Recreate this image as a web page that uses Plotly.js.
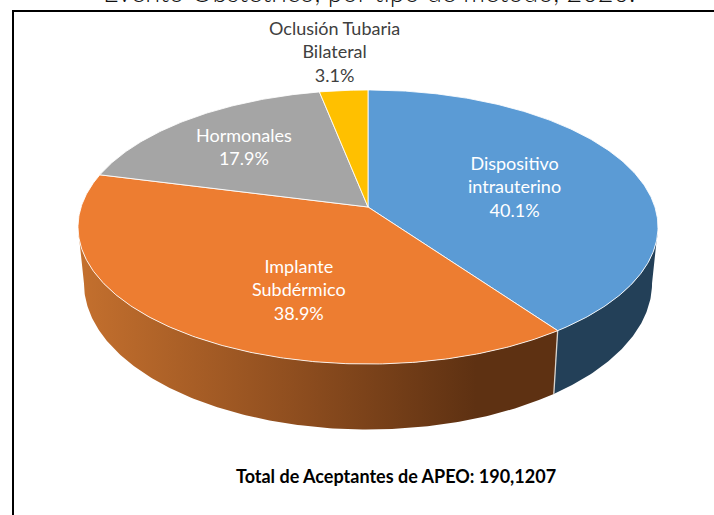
<!DOCTYPE html>
<html><head><meta charset="utf-8">
<script src="https://cdn.plot.ly/plotly-3.0.0.min.js"></script>
<style>html,body{margin:0;padding:0;background:#fff}#c{width:714px;height:515px}</style></head>
<body><div id="c"></div>
<script>
const categories = ['Dispositivo<br>intrauterino','Implante<br>Subdérmico','Hormonales','Oclusión Tubaria<br>Bilateral'];
const percentages = [40.1,38.9,17.9,3.1];
const colors = ['#5B9BD5','#ED7D31','#A5A5A5','#FFC000'];
const labelX = [514,299,244,334];
const labelY = [186,289,146,51];
const labelColors = ['#ffffff','#ffffff','#ffffff','#404040'];
const titleText = 'Evento Obstétrico, por tipo de método, 2020.';
const totalText = 'Total de Aceptantes de APEO: 190,1207';

// perspective model of the tilted disc
const CX=368, K=0.146, TOP={a:207,b:103.9,A:286.9}, BOT={a:262,b:104.8,A:281};
function pt(th,d){const u=Math.sin(th),v=-Math.cos(th),w=1-K*v;return [CX+d.A*u/w,(d.a+d.b*v)/w];}
function arc(t0,t1,d){const n=Math.max(2,Math.ceil(Math.abs(t1-t0)/0.01));const r=[];for(let i=0;i<=n;i++)r.push(pt(t0+(t1-t0)*i/n,d));return r;}
const total=percentages.reduce((a,b)=>a+b,0);
const angles=[0];percentages.forEach(p=>angles.push(angles[angles.length-1]+p/total*2*Math.PI));

function poly(pts,color,extra){return Object.assign({type:'scatter',mode:'lines',x:pts.map(p=>p[0]),y:pts.map(p=>p[1]),fill:'toself',fillcolor:color,line:{color:color,width:0},hoverinfo:'skip',showlegend:false},extra||{});}
const traces=[];
// sides: only the front-facing part, between the two silhouette tangents
const tangent=Math.acos(-K);
const side0=[tangent,angles[1]],side1=[angles[1],2*Math.PI-tangent];
traces.push(poly(arc(side0[0],side0[1],TOP).concat(arc(side0[1],side0[0],BOT)),'#234058'));
traces.push(poly(arc(side1[0],side1[1],TOP).concat(arc(side1[1],side1[0],BOT)),'#ED7D31',{fillgradient:{type:'horizontal',colorscale:[[0,'#C4702E'],[0.45,'#8F4E1F'],[0.83,'#5E3112'],[1,'#5E3112']]}}));
// seam on the side
const s0=pt(angles[1],TOP),s1=pt(angles[1],BOT);
traces.push({type:'scatter',mode:'lines',x:[s0[0],s1[0]],y:[s0[1],s1[1]],line:{color:'#D9D4CE',width:1.3},hoverinfo:'skip',showlegend:false});
// top slices
percentages.forEach((p,i)=>{
  const c0=[CX,TOP.a];
  const pts=[c0].concat(arc(angles[i],angles[i+1],TOP)).concat([c0]);
  traces.push(poly(pts,colors[i],{line:{color:'rgba(255,255,255,0.85)',width:1}}));
});
const ann=categories.map((c,i)=>({x:labelX[i],y:labelY[i],xref:'x',yref:'y',text:c+'<br>'+percentages[i].toFixed(1)+'%',showarrow:false,font:{family:'Lato, Carlito, sans-serif',size:18,color:labelColors[i]},align:'center',xanchor:'center',yanchor:'middle'}));
ann.push({x:396,y:476,xref:'x',yref:'y',text:'<b>'+totalText+'</b>',showarrow:false,font:{family:'Lato, sans-serif',size:18,color:'#000'},xanchor:'center',yanchor:'middle'});
ann.push({x:369,y:0,yshift:9,xref:'x',yref:'y',text:titleText,showarrow:false,font:{family:'Lato, sans-serif',size:27,color:'#111',weight:300},xanchor:'center',yanchor:'middle'});
const layout={width:714,height:515,margin:{l:0,r:0,t:0,b:0},paper_bgcolor:'#fff',plot_bgcolor:'#fff',showlegend:false,
 xaxis:{range:[0,714],visible:false,fixedrange:true},yaxis:{range:[515,0],visible:false,fixedrange:true},
 annotations:ann,
 shapes:[{type:'line',xref:'x',yref:'y',x0:13,x1:13,y0:11,y1:515,line:{color:'#000',width:2}},{type:'line',xref:'x',yref:'y',x0:12,x1:714,y0:11,y1:11,line:{color:'#000',width:2}}]};
Plotly.newPlot('c',traces,layout,{displayModeBar:false,staticPlot:true});
</script></body></html>
